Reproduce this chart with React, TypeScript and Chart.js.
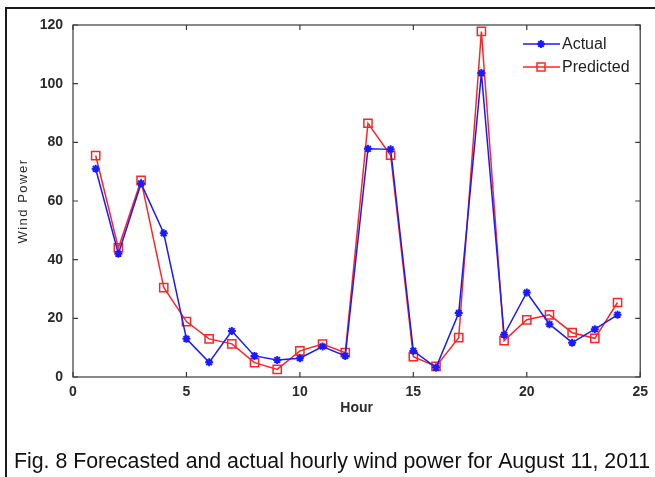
import React, { useEffect, useRef } from 'react';
import { Chart, registerables } from 'chart.js';

Chart.register(...registerables);

// ---- data ----
const hours = [1, 2, 3, 4, 5, 6, 7, 8, 9, 10, 11, 12, 13, 14, 15, 16, 17, 18, 19, 20, 21, 22, 23, 24];
const actual = [71, 42, 66, 49, 13, 5, 15.7, 7.2, 5.8, 6.4, 10.4, 7.2, 77.8, 77.6, 8.9, 3.2, 21.8, 103.6, 14.4, 28.8, 18, 11.7, 16.3, 21.2];
const predicted = [75.5, 44, 67, 30.5, 18.9, 13, 11.3, 4.9, 2.6, 8.9, 11.2, 8.3, 86.5, 75.6, 6.9, 3.6, 13.4, 117.8, 12.4, 19.5, 21.2, 15.1, 13.2, 25.4];
const xTicks = [0, 5, 10, 15, 20, 25];
const yTicks = [0, 20, 40, 60, 80, 100, 120];
const seriesNames = ['Actual', 'Predicted'];
const xTitle = 'Hour';
const yTitle = 'Wind Power';
const caption = 'Fig. 8 Forecasted and actual hourly wind power for August 11, 2011';

const BLUE = '#1a1aff';
const RED = '#ff2424';

function drawStar(ctx: CanvasRenderingContext2D, x: number, y: number, r: number, color: string) {
  ctx.save();
  ctx.strokeStyle = color;
  ctx.lineWidth = 2;
  ctx.beginPath();
  ctx.moveTo(x - r, y); ctx.lineTo(x + r, y);
  ctx.moveTo(x, y - r); ctx.lineTo(x, y + r);
  const d = r * 0.7;
  ctx.moveTo(x - d, y - d); ctx.lineTo(x + d, y + d);
  ctx.moveTo(x - d, y + d); ctx.lineTo(x + d, y - d);
  ctx.stroke();
  ctx.restore();
}

function drawSquare(ctx: CanvasRenderingContext2D, x: number, y: number, s: number, color: string) {
  ctx.save();
  ctx.strokeStyle = color;
  ctx.lineWidth = 1.5;
  ctx.strokeRect(x - s / 2, y - s / 2, s, s);
  ctx.restore();
}

const decorPlugin = {
  id: 'decor',
  afterDraw(chart: any) {
    const ctx: CanvasRenderingContext2D = chart.ctx;
    const { left, right, top, bottom } = chart.chartArea;
    const xs = chart.scales.x;
    const ys = chart.scales.y;
    ctx.save();
    // plot box
    ctx.strokeStyle = '#3a3a3a';
    ctx.lineWidth = 1.2;
    ctx.strokeRect(left, top, right - left, bottom - top);
    // inward ticks
    ctx.beginPath();
    const tl = 5;
    xTicks.forEach((v) => {
      const px = xs.getPixelForValue(v);
      ctx.moveTo(px, bottom); ctx.lineTo(px, bottom - tl);
      ctx.moveTo(px, top); ctx.lineTo(px, top + tl);
    });
    yTicks.forEach((v) => {
      const py = ys.getPixelForValue(v);
      ctx.moveTo(left, py); ctx.lineTo(left + tl, py);
      ctx.moveTo(right, py); ctx.lineTo(right - tl, py);
    });
    ctx.stroke();

    // axis titles
    ctx.fillStyle = '#2a2a2a';
    ctx.textAlign = 'center';
    ctx.textBaseline = 'middle';
    ctx.font = 'bold 14px "Liberation Sans", Arial, sans-serif';
    ctx.fillText(xTitle, (left + right) / 2, 408);
    ctx.save();
    ctx.translate(23, (top + bottom) / 2);
    ctx.rotate(-Math.PI / 2);
    ctx.font = '13px "Liberation Sans", Arial, sans-serif';
    (ctx as any).letterSpacing = '1.5px';
    ctx.fillText(yTitle, 0, 0);
    ctx.restore();

    // legend
    const lx0 = 523, lx1 = 560, lmx = 541;
    const rows = [44, 67];
    const colors = [BLUE, RED];
    rows.forEach((ly, i) => {
      ctx.strokeStyle = colors[i];
      ctx.lineWidth = 1.5;
      ctx.beginPath();
      ctx.moveTo(lx0, ly); ctx.lineTo(lx1, ly);
      ctx.stroke();
      if (i === 0) drawStar(ctx, lmx, ly, 4, BLUE);
      else drawSquare(ctx, lmx, ly, 8, RED);
      ctx.fillStyle = '#222';
      ctx.textAlign = 'left';
      ctx.textBaseline = 'middle';
      ctx.font = '16px "Liberation Sans", Arial, sans-serif';
      ctx.fillText(seriesNames[i], 562, ly + 1);
    });

    // caption
    ctx.fillStyle = '#111';
    ctx.textAlign = 'left';
    ctx.textBaseline = 'middle';
    ctx.font = '21.3px "Liberation Sans", Arial, sans-serif';
    ctx.fillText(caption, 14, 462);

    // outer figure border
    ctx.strokeStyle = '#1a1a1a';
    ctx.lineWidth = 2;
    ctx.beginPath();
    ctx.moveTo(6, 477); ctx.lineTo(6, 8); ctx.lineTo(655, 8);
    ctx.stroke();
    ctx.restore();
  },
};

export default function App() {
  const ref = useRef<HTMLCanvasElement | null>(null);
  useEffect(() => {
    document.body.style.margin = '0';
    const canvas = ref.current!;
    const chart = new Chart(canvas, {
      type: 'line',
      data: {
        datasets: [
          {
            label: seriesNames[0],
            data: hours.map((h, i) => ({ x: h, y: actual[i] })),
            borderColor: BLUE,
            backgroundColor: BLUE,
            borderWidth: 1.5,
            pointStyle: 'star',
            pointRadius: 4,
            pointBorderWidth: 2,
            tension: 0,
          },
          {
            label: seriesNames[1],
            data: hours.map((h, i) => ({ x: h, y: predicted[i] })),
            borderColor: RED,
            backgroundColor: 'rgba(0,0,0,0)',
            borderWidth: 1.5,
            pointStyle: 'rect',
            pointRadius: 5.8,
            pointBorderWidth: 1.5,
            tension: 0,
          },
        ],
      },
      options: {
        responsive: false,
        animation: false,
        devicePixelRatio: 1,
        layout: { padding: { top: 25, right: 10, left: 0, bottom: 0 } },
        plugins: { legend: { display: false }, tooltip: { enabled: false } },
        scales: {
          x: {
            type: 'linear',
            min: 0,
            max: 25,
            grid: { display: false, drawTicks: false },
            border: { display: false },
            ticks: {
              stepSize: 5,
              padding: 7,
              color: '#2a2a2a',
              font: { family: '"Liberation Sans", Arial, sans-serif', size: 14, weight: 'bold' },
              maxRotation: 0,
            },
            afterBuildTicks: (s: any) => { s.ticks = xTicks.map((v) => ({ value: v })); },
            afterFit: (s: any) => { s.height = 100; },
          },
          y: {
            type: 'linear',
            min: 0,
            max: 120,
            grid: { display: false, drawTicks: false },
            border: { display: false },
            ticks: {
              stepSize: 20,
              padding: 10,
              color: '#2a2a2a',
              font: { family: '"Liberation Sans", Arial, sans-serif', size: 14, weight: 'bold' },
            },
            afterBuildTicks: (s: any) => { s.ticks = yTicks.map((v) => ({ value: v })); },
            afterFit: (s: any) => { s.width = 73; },
          },
        },
      } as any,
      plugins: [decorPlugin],
    });
    return () => chart.destroy();
  }, []);
  return <canvas ref={ref} width={655} height={477} style={{ display: 'block', width: 655, height: 477 }} />;
}
